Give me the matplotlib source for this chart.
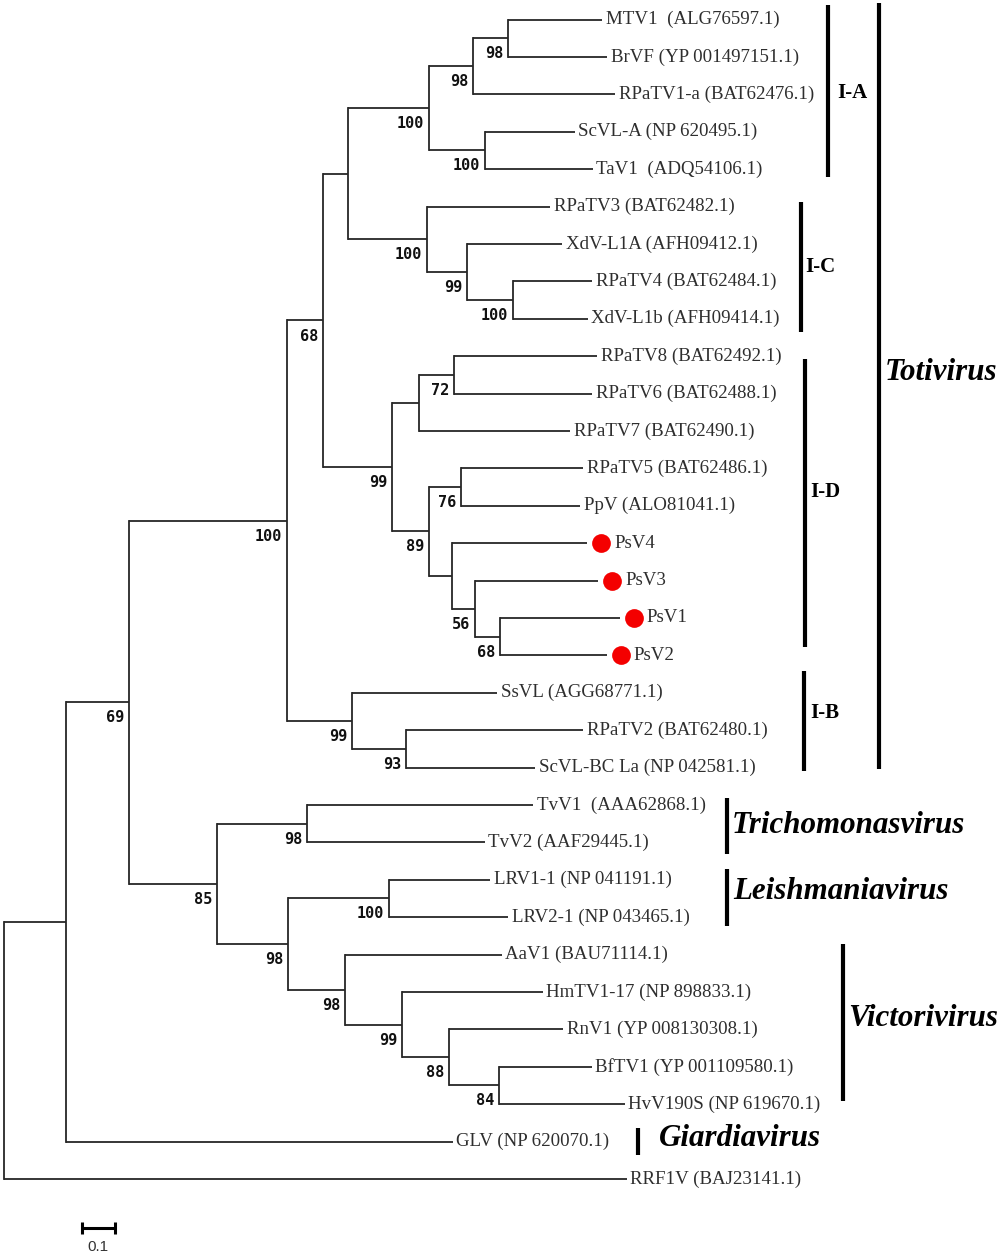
import matplotlib
matplotlib.use("Agg")
import matplotlib.pyplot as plt

# ---------------- DATA ----------------
# tree nodes in pre-order: name, parent, branch length (subst./site), bootstrap
node_names = ["root", "n1", "n2", "toti", "n4", "n5", "IA", "n7", "n8", "MTV1", "BrVF", "RPaTV1-a",
              "n9", "ScVL-A", "TaV1", "IC", "RPaTV3", "n11", "XdV-L1A", "n12", "RPaTV4", "XdV-L1b",
              "ID", "n14", "n15", "RPaTV8", "RPaTV6", "RPaTV7", "n16", "n17", "RPaTV5", "PpV",
              "n18", "PsV4", "n19", "PsV3", "n20", "PsV1", "PsV2",
              "IB", "SsVL", "n22", "RPaTV2", "ScVL-BC La",
              "n23", "tricho", "TvV1", "TvV2", "n25", "leish", "LRV1-1", "LRV2-1",
              "victori", "AaV1", "n28", "HmTV1-17", "n29", "RnV1", "n30", "BfTV1", "HvV190S",
              "GLV", "RRF1V"]
node_parents = [None, "root", "n1", "n2", "toti", "n4", "n5", "IA", "n7", "n8", "n8", "n7",
                "IA", "n9", "n9", "n5", "IC", "IC", "n11", "n11", "n12", "n12",
                "n4", "ID", "n14", "n15", "n15", "n14", "ID", "n16", "n17", "n17",
                "n16", "n18", "n18", "n19", "n19", "n20", "n20",
                "toti", "IB", "IB", "n22", "n22",
                "n2", "n23", "tricho", "tricho", "n23", "n25", "leish", "leish",
                "n25", "victori", "victori", "n28", "n28", "n29", "n29", "n30", "n30",
                "n1", "root"]
branch_lengths = [0.0, 0.190, 0.193, 0.483, 0.110, 0.076, 0.248, 0.135, 0.107, 0.287, 0.303, 0.434,
                  0.171, 0.275, 0.330, 0.242, 0.376, 0.122, 0.291, 0.141, 0.242, 0.229,
                  0.211, 0.083, 0.107, 0.437, 0.422, 0.462, 0.113, 0.098, 0.373, 0.364,
                  0.070, 0.413, 0.070, 0.376, 0.076, 0.367, 0.327,
                  0.199, 0.443, 0.165, 0.541, 0.394,
                  0.269, 0.275, 0.691, 0.544, 0.217, 0.309, 0.309, 0.364,
                  0.174, 0.480, 0.174, 0.431, 0.144, 0.349, 0.153, 0.284, 0.385,
                  1.183, 1.905]
bootstrap = [None, None, 69, 100, 68, None, 100, 98, 98, None, None, None,
             100, None, None, 100, None, 99, None, 100, None, None,
             99, None, 72, None, None, None, 89, 76, None, None,
             None, None, 56, None, 68, None, None,
             99, None, 93, None, None,
             85, 98, None, None, 98, 100, None, None,
             98, None, 99, None, 88, None, 84, None, None,
             None, None]

leaf_ids = ["MTV1", "BrVF", "RPaTV1-a", "ScVL-A", "TaV1", "RPaTV3", "XdV-L1A", "RPaTV4", "XdV-L1b",
            "RPaTV8", "RPaTV6", "RPaTV7", "RPaTV5", "PpV", "PsV4", "PsV3", "PsV1", "PsV2",
            "SsVL", "RPaTV2", "ScVL-BC La", "TvV1", "TvV2", "LRV1-1", "LRV2-1",
            "AaV1", "HmTV1-17", "RnV1", "BfTV1", "HvV190S", "GLV", "RRF1V"]
leaf_texts = ["MTV1  (ALG76597.1)", "BrVF (YP 001497151.1)", "RPaTV1-a (BAT62476.1)",
              "ScVL-A (NP 620495.1)", "TaV1  (ADQ54106.1)", "RPaTV3 (BAT62482.1)",
              "XdV-L1A (AFH09412.1)", "RPaTV4 (BAT62484.1)", "XdV-L1b (AFH09414.1)",
              "RPaTV8 (BAT62492.1)", "RPaTV6 (BAT62488.1)", "RPaTV7 (BAT62490.1)",
              "RPaTV5 (BAT62486.1)", "PpV (ALO81041.1)", "PsV4", "PsV3", "PsV1", "PsV2",
              "SsVL (AGG68771.1)", "RPaTV2 (BAT62480.1)", "ScVL-BC La (NP 042581.1)",
              "TvV1  (AAA62868.1)", "TvV2 (AAF29445.1)", "LRV1-1 (NP 041191.1)",
              "LRV2-1 (NP 043465.1)", "AaV1 (BAU71114.1)", "HmTV1-17 (NP 898833.1)",
              "RnV1 (YP 008130308.1)", "BfTV1 (YP 001109580.1)", "HvV190S (NP 619670.1)",
              "GLV (NP 620070.1)", "RRF1V (BAJ23141.1)"]
marked_leaves = ["PsV4", "PsV3", "PsV1", "PsV2"]

clade_names = ["I-A", "I-C", "I-D", "I-B", "Totivirus", "Trichomonasvirus",
               "Leishmaniavirus", "Victorivirus", "Giardiavirus"]
clade_first = ["MTV1", "RPaTV3", "RPaTV8", "SsVL", "MTV1", "TvV1", "LRV1-1", "AaV1", "GLV"]
clade_last = ["TaV1", "XdV-L1b", "PsV2", "ScVL-BC La", "ScVL-BC La", "TvV2", "LRV2-1", "HvV190S", "GLV"]
scale_length = 0.1

# ---------------- LAYOUT ----------------
PX_PER_UNIT = 327.0
ROOT_PX = 4.0
Y0_PX, DY_PX = 19.5, 37.4
W, H = 1000, 1258

def px2x(p):
    return (p - ROOT_PX) / PX_PER_UNIT

def px2y(p):
    return (p - Y0_PX) / DY_PX

# clade bar layout: bar x (px), top pad, bottom pad (leaf units), label gap px, label dy
clade_bar_px = [828, 801, 805, 804, 879, 727, 727, 843, 638]
clade_pad_top = [0.38, 0.13, -0.07, 0.58, 0.44, 0.19, 0.29, 0.29, 0.35]
clade_pad_bot = [0.20, 0.35, -0.22, 0.09, 0.04, 0.31, 0.23, -0.07, 0.35]
clade_gap_px = [9, 4, 5, 6, 6, 5, 6, 5, 21]
clade_label_dy = [0.05, 0.0, -0.3, -0.2, -0.37, 0.0, -0.15, -0.1, -0.08]
clade_italic = [False, False, False, False, True, True, True, True, True]

LINE_C = "#262626"
TEXT_C = "#2e2e2e"
LW = 1.3
LEAF_FS = 13.6

fig = plt.figure(figsize=(W / 100, H / 100), dpi=100)
ax = fig.add_axes([0, 0, 1, 1])
ax.set_xlim(px2x(0), px2x(W))
ax.set_ylim(px2y(H), px2y(0))
ax.axis("off")

# ---------------- TREE COORDS ----------------
children = {n: [] for n in node_names}
for n, p in zip(node_names, node_parents):
    if p is not None:
        children[p].append(n)

xpos = {}
for n, p, bl in zip(node_names, node_parents, branch_lengths):
    xpos[n] = 0.0 if p is None else xpos[p] + bl

ypos = {}

def assign_y(n):
    if not children[n]:
        ypos[n] = leaf_ids.index(n)
    else:
        for c in children[n]:
            assign_y(c)
        ypos[n] = sum(ypos[c] for c in children[n]) / len(children[n])

assign_y("root")

# ---------------- DRAW TREE ----------------
for n, p in zip(node_names, node_parents):
    if p is not None:
        ax.plot([xpos[p], xpos[n]], [ypos[n], ypos[n]], color=LINE_C, lw=LW,
                solid_capstyle="butt")
    if children[n]:
        ys = [ypos[c] for c in children[n]]
        ax.plot([xpos[n], xpos[n]], [min(ys), max(ys)], color=LINE_C, lw=LW,
                solid_capstyle="projecting")

# bootstrap values
for n, b in zip(node_names, bootstrap):
    if b is not None:
        ax.annotate(str(b), (xpos[n], ypos[n]), xytext=(-3.5, -11.2),
                    textcoords="offset points", ha="right", va="center",
                    fontsize=11, fontweight="bold", family="DejaVu Sans Mono",
                    color="#111111")

# leaf labels
for lid, txt in zip(leaf_ids, leaf_texts):
    x, y = xpos[lid], ypos[lid]
    if lid in marked_leaves:
        dot_x = x + 14 / PX_PER_UNIT
        ax.plot([dot_x], [y], "o", color="#f40000", markersize=13.5, markeredgewidth=0)
        ax.annotate(txt, (dot_x, y), xytext=(9.5, 0), textcoords="offset points",
                    ha="left", va="center", fontsize=LEAF_FS, family="Liberation Serif",
                    color=TEXT_C)
    else:
        ax.annotate(txt, (x, y), xytext=(2.5, 0), textcoords="offset points",
                    ha="left", va="center", fontsize=LEAF_FS, family="Liberation Serif",
                    color=TEXT_C)

# clade bars and labels
for i, name in enumerate(clade_names):
    y1 = leaf_ids.index(clade_first[i]) - clade_pad_top[i]
    y2 = leaf_ids.index(clade_last[i]) + clade_pad_bot[i]
    bx = px2x(clade_bar_px[i])
    ax.plot([bx, bx], [y1, y2], color="black", lw=3.0, solid_capstyle="butt")
    ty = (y1 + y2) / 2 + clade_label_dy[i]
    tx = px2x(clade_bar_px[i] + clade_gap_px[i])
    if clade_italic[i]:
        ax.text(tx, ty, name, ha="left", va="center", fontsize=22.3, fontweight="bold",
                style="italic", family="Liberation Serif", color="black")
    else:
        ax.text(tx, ty, name, ha="left", va="center", fontsize=15, fontweight="bold",
                family="Liberation Serif", color="black")

# scale bar
sb_x0 = px2x(82)
sb_y = px2y(1228)
tick_h = 6 / DY_PX
ax.plot([sb_x0, sb_x0 + scale_length], [sb_y, sb_y], color="black", lw=2.2,
        solid_capstyle="butt")
for xx in (sb_x0, sb_x0 + scale_length):
    ax.plot([xx, xx], [sb_y - tick_h, sb_y + tick_h], color="black", lw=2.2,
            solid_capstyle="butt")
ax.text(sb_x0 + scale_length / 2, px2y(1247), f"{scale_length:g}", ha="center", va="center",
        fontsize=11, family="Liberation Sans", color="#333333")

fig.savefig("out.png", dpi=100, facecolor="white")
